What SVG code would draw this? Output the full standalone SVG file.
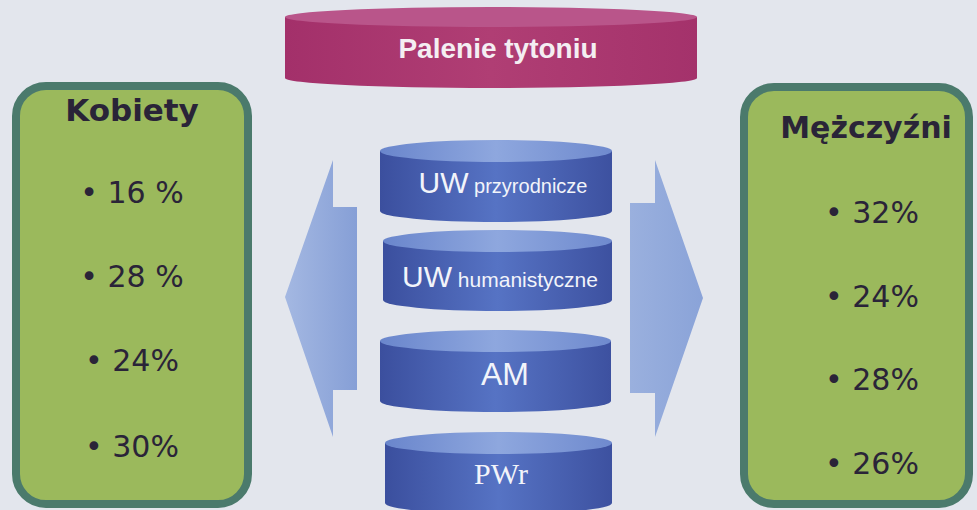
<svg xmlns="http://www.w3.org/2000/svg" width="977" height="510" viewBox="0 0 977 510">
<defs>
<linearGradient id="blueBody" x1="0" y1="0" x2="1" y2="0">
<stop offset="0" stop-color="#3b4f9e"/>
<stop offset="0.5" stop-color="#5673c4"/>
<stop offset="1" stop-color="#3d51a0"/>
</linearGradient>
<linearGradient id="blueTop" x1="0" y1="0" x2="1" y2="0">
<stop offset="0" stop-color="#6a86cc"/>
<stop offset="0.5" stop-color="#8ea7de"/>
<stop offset="1" stop-color="#6f8ace"/>
</linearGradient>
<linearGradient id="pinkBody" x1="0" y1="0" x2="1" y2="0">
<stop offset="0" stop-color="#a3306a"/>
<stop offset="0.5" stop-color="#b03e74"/>
<stop offset="1" stop-color="#a4326b"/>
</linearGradient>
<linearGradient id="arrowL" x1="0" y1="0" x2="1" y2="0">
<stop offset="0" stop-color="#a4b8e2"/>
<stop offset="1" stop-color="#869fd6"/>
</linearGradient>
<linearGradient id="arrowR" x1="0" y1="0" x2="1" y2="0">
<stop offset="0" stop-color="#9ab0de"/>
<stop offset="1" stop-color="#8aa3d8"/>
</linearGradient>
</defs>
<style>
.box{fill:#9bb95c;stroke:#4b7a6c;stroke-width:8}
.head{font-family:"DejaVu Sans",Verdana,sans-serif;font-weight:bold;fill:#2a2438;text-anchor:middle}
.item{font-family:"DejaVu Sans",Verdana,sans-serif;font-size:30px;fill:#2a2438;text-anchor:middle}
.cyl{font-family:"Liberation Sans",Arial,sans-serif;fill:#f2f4fa;text-anchor:middle}
.big{font-size:30px}
.small{font-size:20px}
</style>
<rect width="977" height="510" fill="#e3e6ed"/>

<g id="connectors">
<polygon points="285,297 333,160 333,207 357,207 357,390 333,390 333,437" fill="url(#arrowL)"/>
<polygon points="703,298 655,160 655,203 630,203 630,393 655,393 655,437" fill="url(#arrowR)"/>
</g>

<g id="palenie">
<path d="M285,17 L285,78 A206,10 0 0 0 697,78 L697,17 Z" fill="url(#pinkBody)"/>
<ellipse cx="491" cy="17" rx="206" ry="10" fill="#b9558a"/>
<text x="498" y="58" font-family="Liberation Sans, Arial, sans-serif" font-weight="bold" font-size="28" fill="#f4eef2" text-anchor="middle">Palenie tytoniu</text>
</g>

<g id="kobiety">
<rect class="box" x="16" y="86" width="232" height="418" rx="30"/>
<text class="head" x="132" y="121" font-size="31">Kobiety</text>
<text class="item" x="132" y="203">• 16 %</text>
<text class="item" x="132" y="287">• 28 %</text>
<text class="item" x="132" y="371">• 24%</text>
<text class="item" x="132" y="457">• 30%</text>
</g>

<g id="mezczyzni">
<rect class="box" x="744" y="87" width="225" height="417" rx="30"/>
<text class="head" x="866" y="138" font-size="30">Mężczyźni</text>
<text class="item" x="872" y="223">• 32%</text>
<text class="item" x="872" y="307">• 24%</text>
<text class="item" x="872" y="390">• 28%</text>
<text class="item" x="872" y="474">• 26%</text>
</g>

<g id="uw-przyrodnicze">
<path d="M380,151 L380,211 A116,11 0 0 0 612,211 L612,151 Z" fill="url(#blueBody)"/>
<ellipse cx="496" cy="151" rx="116" ry="11" fill="url(#blueTop)"/>
<text class="cyl" x="503" y="193"><tspan class="big">UW</tspan><tspan class="small"> przyrodnicze</tspan></text>
</g>

<g id="uw-humanistyczne">
<path d="M383,241 L383,300 A114.5,11 0 0 0 612,300 L612,241 Z" fill="url(#blueBody)"/>
<ellipse cx="497.5" cy="241" rx="114.5" ry="11" fill="url(#blueTop)"/>
<text class="cyl" x="500" y="287"><tspan class="big">UW</tspan><tspan font-size="21px"> humanistyczne</tspan></text>
</g>

<g id="am">
<path d="M380,341 L380,401 A115.5,11 0 0 0 611,401 L611,341 Z" fill="url(#blueBody)"/>
<ellipse cx="495.5" cy="341" rx="115.5" ry="11" fill="url(#blueTop)"/>
<text class="cyl" x="505" y="385" font-size="32">AM</text>
</g>

<g id="pwr">
<path d="M385,443 L385,503 A113.5,11 0 0 0 612,503 L612,443 Z" fill="url(#blueBody)"/>
<ellipse cx="498.5" cy="443" rx="113.5" ry="11" fill="url(#blueTop)"/>
<text x="501" y="484" font-family="Liberation Serif, 'Times New Roman', serif" font-size="30" fill="#f2f4fa" text-anchor="middle">PWr</text>
</g>
</svg>
